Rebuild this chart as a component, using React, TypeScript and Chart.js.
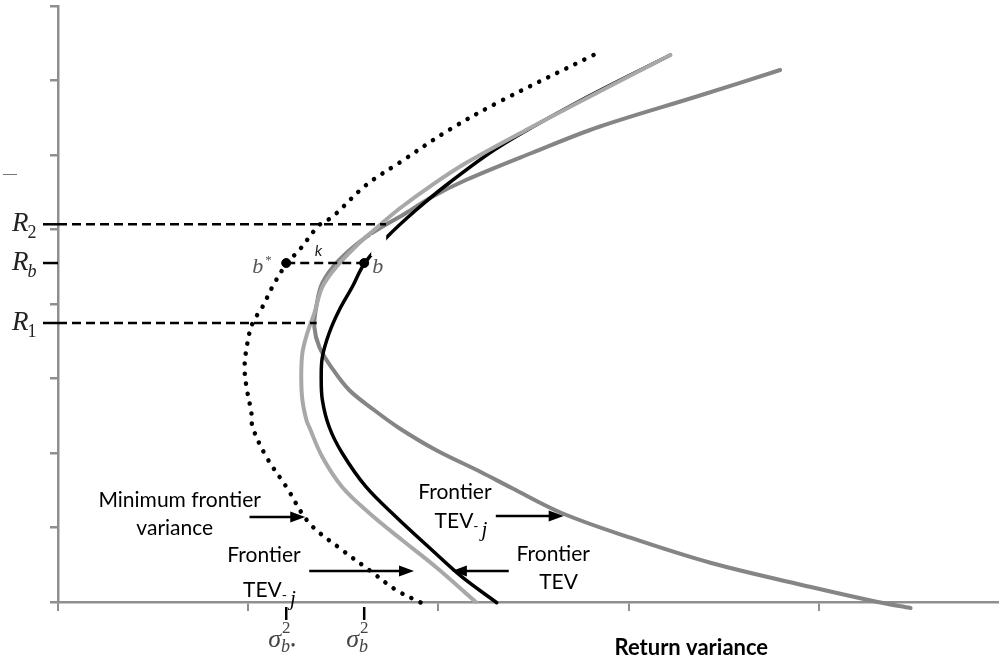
import React, { useEffect, useRef } from "react";
import { Chart, registerables } from "chart.js";

Chart.register(...registerables);

// Minimum frontier variance (dotted)
const minFrontierX = [2.816, 2.318, 2.056, 1.793, 1.62, 1.442, 1.374, 1.269, 1.201, 1.127, 1.075, 1.023, 0.996, 0.981, 0.991, 1.017, 1.023, 1.096, 1.201, 1.321, 1.494, 1.636, 1.778, 1.909];
const minFrontierY = [7.342, 6.711, 6.336, 5.893, 5.597, 5.168, 5.06, 4.725, 4.537, 4.228, 3.96, 3.745, 3.477, 3.154, 2.886, 2.537, 2.349, 1.946, 1.544, 1.06, 0.698, 0.43, 0.161, -0.01];

// Frontier TEV-i (light grey)
const tevIX = [3.22, 2.842, 2.491, 2.145, 1.966, 1.793, 1.662, 1.584, 1.463, 1.39, 1.348, 1.311, 1.285, 1.279, 1.285, 1.306, 1.321, 1.39, 1.494, 1.636, 1.809, 1.987, 2.197];
const tevIY = [7.342, 6.846, 6.376, 5.893, 5.597, 5.275, 4.993, 4.819, 4.497, 4.228, 3.879, 3.611, 3.342, 3.02, 2.711, 2.443, 2.349, 1.946, 1.544, 1.195, 0.832, 0.47, 0.0];

// Frontier TEV (black)
const tevX = [3.22, 2.753, 2.318, 2.056, 1.883, 1.73, 1.61, 1.547, 1.479, 1.426, 1.39, 1.384, 1.39, 1.426, 1.494, 1.62, 1.778, 1.966, 2.124, 2.307];
const tevY = [7.342, 6.738, 6.107, 5.624, 5.262, 4.899, 4.537, 4.228, 3.919, 3.611, 3.289, 3.02, 2.711, 2.349, 2.0, 1.544, 1.141, 0.698, 0.336, -0.01];

// Frontier TEV-j (dark grey)
const tevJX = [3.797, 3.367, 2.842, 2.491, 2.145, 1.966, 1.83, 1.62, 1.479, 1.39, 1.358, 1.348, 1.374, 1.437, 1.531, 1.662, 1.793, 1.987, 2.223, 2.386, 2.648, 2.999, 3.435, 3.959, 4.31, 4.483];
const tevJY = [7.141, 6.792, 6.376, 6.027, 5.664, 5.436, 5.221, 4.899, 4.591, 4.282, 3.96, 3.691, 3.423, 3.154, 2.846, 2.577, 2.336, 2.04, 1.745, 1.53, 1.195, 0.872, 0.523, 0.201, 0.0, -0.081];

// Key levels
const R2 = 5.07;
const RB = 4.55;
const R1 = 3.745;
const SIGMA_BSTAR = 1.2;
const SIGMA_B = 1.61;
const R2_END = 1.725;
const R1_END = 1.36;

const yTickLabels = [
  { v: R2, sub: "2" },
  { v: RB, sub: "b" },
  { v: R1, sub: "1" },
];
const xTickLabels = [
  { v: SIGMA_BSTAR, sub: "b", star: true },
  { v: SIGMA_B, sub: "b", star: false },
];

// Annotation arrows: [x from, x to, y] in data units
const arrows = [
  [1.007, 1.3, 1.141],
  [1.321, 1.872, 0.416],
  [2.302, 2.659, 1.154],
  [2.37, 2.071, 0.416],
];

const toPts = (xs: number[], ys: number[]) => xs.map((x, i) => ({ x, y: ys[i] }));

const SANS = '"Lato", "Open Sans", sans-serif';
const SERIF = '"Liberation Serif", "DejaVu Serif", serif';

const overlay = {
  id: "overlay",
  afterDatasetsDraw(chart: any) {
    const ctx = chart.ctx;
    const xs = chart.scales.x;
    const ys = chart.scales.y;
    // white gap near point b
    ctx.save();
    ctx.fillStyle = "#ffffff";
    const gx = xs.getPixelForValue(SIGMA_B) + 7;
    const gy = ys.getPixelForValue(RB) - 28;
    ctx.fillRect(gx, gy, 15, 21);
    ctx.restore();
  },
  afterDraw(chart: any) {
    const ctx = chart.ctx;
    const xs = chart.scales.x;
    const ys = chart.scales.y;
    const area = chart.chartArea;
    ctx.save();

    // stray tiny mark
    ctx.strokeStyle = "#777";
    ctx.lineWidth = 1;
    ctx.beginPath();
    ctx.moveTo(3, 174.5);
    ctx.lineTo(17, 174.5);
    ctx.stroke();

    // R labels with black ticks
    for (const t of yTickLabels) {
      const py = ys.getPixelForValue(t.v);
      ctx.strokeStyle = "#000";
      ctx.lineWidth = 2.5;
      ctx.beginPath();
      ctx.moveTo(area.left - 15, py);
      ctx.lineTo(area.left, py);
      ctx.stroke();
      ctx.fillStyle = "#222";
      ctx.textAlign = "left";
      ctx.textBaseline = "alphabetic";
      ctx.font = "italic 27px " + SERIF;
      ctx.fillText("R", 12, py + 7);
      const w = ctx.measureText("R").width;
      ctx.font = (t.sub === "b" ? "italic " : "") + "18px " + SERIF;
      ctx.fillText(t.sub, 12 + w - 1, py + 14);
    }

    // sigma labels with black ticks
    for (const t of xTickLabels) {
      const px = xs.getPixelForValue(t.v);
      ctx.strokeStyle = "#000";
      ctx.lineWidth = 2.5;
      ctx.beginPath();
      ctx.moveTo(px, area.bottom + 5);
      ctx.lineTo(px, area.bottom + 18);
      ctx.stroke();
      ctx.fillStyle = "#444";
      ctx.textAlign = "left";
      ctx.font = "italic 26px " + SERIF;
      const sx = px - 18;
      ctx.fillText("σ", sx, area.bottom + 45);
      const w = ctx.measureText("σ").width;
      ctx.font = "17px " + SERIF;
      ctx.fillText("2", sx + w + 1, area.bottom + 31);
      ctx.font = "italic 18px " + SERIF;
      ctx.fillText(t.sub, sx + w, area.bottom + 50);
      if (t.star) {
        const wb = ctx.measureText(t.sub).width;
        ctx.font = "bold 12px " + SERIF;
        ctx.fillText("•", sx + w + wb + 1, area.bottom + 47);
      }
    }

    // b*, b, k labels
    const pbs = xs.getPixelForValue(SIGMA_BSTAR);
    const pb = xs.getPixelForValue(SIGMA_B);
    const prb = ys.getPixelForValue(RB);
    ctx.fillStyle = "#555";
    ctx.font = "italic 22px " + SERIF;
    ctx.textAlign = "left";
    ctx.fillText("b", pbs - 34, prb + 10);
    ctx.font = "13px " + SERIF;
    ctx.fillText("*", pbs - 21, prb + 1);
    ctx.font = "italic 22px " + SERIF;
    ctx.fillText("b", pb + 8, prb + 10);
    ctx.fillStyle = "#222";
    ctx.font = "italic 16px " + SANS;
    ctx.textAlign = "center";
    ctx.fillText("k", xs.getPixelForValue(1.37), prb - 7);

    // arrows
    ctx.fillStyle = "#000";
    ctx.strokeStyle = "#000";
    for (const a of arrows) {
      const x1 = xs.getPixelForValue(a[0]);
      const x2 = xs.getPixelForValue(a[1]);
      const y = ys.getPixelForValue(a[2]);
      const dir = Math.sign(x2 - x1);
      ctx.lineWidth = 2.5;
      ctx.beginPath();
      ctx.moveTo(x1, y);
      ctx.lineTo(x2 - dir * 10, y);
      ctx.stroke();
      ctx.beginPath();
      ctx.moveTo(x2, y);
      ctx.lineTo(x2 - dir * 15, y - 5.5);
      ctx.lineTo(x2 - dir * 15, y + 5.5);
      ctx.closePath();
      ctx.fill();
    }

    // annotation texts
    const label = (text: string, vx: number, vy: number) => {
      ctx.font = "21px " + SANS;
      ctx.textAlign = "center";
      ctx.fillStyle = "#000";
      ctx.fillText(text, xs.getPixelForValue(vx), ys.getPixelForValue(vy));
    };
    const tevj = (vx: number, vy: number) => {
      const cx = xs.getPixelForValue(vx);
      const base = ys.getPixelForValue(vy);
      ctx.fillStyle = "#000";
      ctx.textAlign = "left";
      ctx.font = "21px " + SANS;
      const w1 = ctx.measureText("TEV").width;
      ctx.font = "14px " + SANS;
      const w2 = ctx.measureText("-").width;
      ctx.font = "italic 21px " + SERIF;
      const w3 = ctx.measureText("j").width;
      let x = cx - (w1 + w2 + 3 + w3) / 2;
      ctx.font = "21px " + SANS;
      ctx.fillText("TEV", x, base);
      x += w1;
      ctx.font = "14px " + SANS;
      ctx.fillText("-", x, base + 3);
      x += w2 + 3;
      ctx.font = "italic 21px " + SERIF;
      ctx.fillText("j", x, base + 8);
    };
    label("Minimum frontier", 0.64, 1.275);
    label("variance", 0.614, 0.899);
    label("Frontier", 1.083, 0.537);
    tevj(1.112, 0.067);
    label("Frontier", 2.087, 1.383);
    tevj(2.119, 0.993);
    label("Frontier", 2.604, 0.55);
    label("TEV", 2.632, 0.174);

    // axis title
    ctx.font = "bold 22px " + SANS;
    ctx.textAlign = "center";
    ctx.fillStyle = "#000";
    ctx.fillText("Return variance", xs.getPixelForValue(3.33), area.bottom + 53);

    ctx.restore();
  },
};

export default function App() {
  const ref = useRef<HTMLCanvasElement>(null);
  useEffect(() => {
    document.body.style.margin = "0";
    const canvas = ref.current;
    if (!canvas) return;
    const axisGrey = "#8f8f8f";
    const curve = (label: string, data: any[], color: string, width: number, extra: any = {}) => ({
      label,
      data,
      showLine: true,
      borderColor: color,
      borderWidth: width,
      borderCapStyle: "round",
      borderJoinStyle: "round",
      pointRadius: 0,
      tension: 0.35,
      clip: 12,
      ...extra,
    });
    const dashed = (label: string, data: any[]) => ({
      label,
      data,
      showLine: true,
      borderColor: "#000",
      borderWidth: 2.5,
      borderDash: [9, 5],
      pointRadius: 0,
    });
    const chart = new Chart(canvas, {
      type: "scatter",
      data: {
        datasets: [
          {
            label: "b points",
            data: [
              { x: SIGMA_BSTAR, y: RB },
              { x: SIGMA_B, y: RB },
            ],
            showLine: false,
            pointRadius: 4.5,
            pointBackgroundColor: "#000",
            pointBorderColor: "#000",
          },
          dashed("k", [
            { x: SIGMA_BSTAR, y: RB },
            { x: SIGMA_B, y: RB },
          ]),
          dashed("R2", [
            { x: 0, y: R2 },
            { x: R2_END, y: R2 },
          ]),
          dashed("R1", [
            { x: 0, y: R1 },
            { x: R1_END, y: R1 },
          ]),
          curve("Minimum frontier variance", toPts(minFrontierX, minFrontierY), "#000", 4.5, {
            borderDash: [0.1, 10],
          }),
          curve("Frontier TEV-i", toPts(tevIX, tevIY), "#a8a8a8", 4),
          curve("Frontier TEV", toPts(tevX, tevY), "#000", 3.5),
          curve("Frontier TEV-j", toPts(tevJX, tevJY), "#858585", 4),
        ],
      },
      options: {
        responsive: false,
        animation: false,
        layout: { padding: { left: 0, top: 6, right: 3, bottom: 0 } },
        plugins: {
          legend: { display: false },
          tooltip: { enabled: false },
        },
        scales: {
          x: {
            type: "linear",
            min: 0,
            max: 4.94,
            ticks: { display: false, stepSize: 1 },
            afterBuildTicks: (s: any) => {
              s.ticks = s.ticks.filter((t: any) => Number.isInteger(t.value));
            },
            afterFit: (s: any) => {
              s.height = 58;
            },
            grid: {
              drawOnChartArea: false,
              drawTicks: true,
              tickLength: 9,
              color: axisGrey,
              lineWidth: 2,
            },
            border: { color: axisGrey, width: 2.5 },
          },
          y: {
            type: "linear",
            min: 0,
            max: 8,
            ticks: { display: false, stepSize: 1 },
            afterFit: (s: any) => {
              s.width = 58;
            },
            grid: {
              drawOnChartArea: false,
              drawTicks: true,
              tickLength: 8,
              color: axisGrey,
              lineWidth: 2.5,
            },
            border: { color: axisGrey, width: 2.5 },
          },
        },
      },
      plugins: [overlay],
    } as any);
    return () => chart.destroy();
  }, []);
  return <canvas ref={ref} width={1003} height={660} style={{ display: "block" }} />;
}
